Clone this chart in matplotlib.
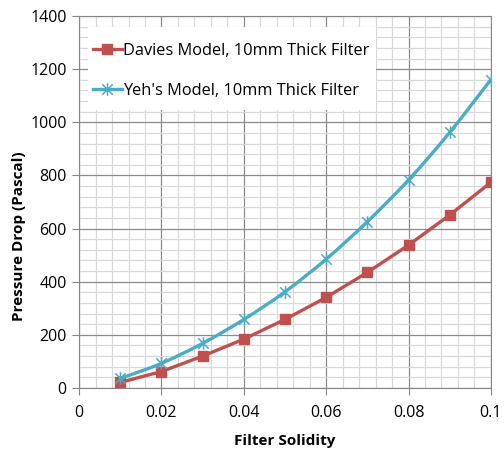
import matplotlib
matplotlib.use("Agg")
import matplotlib.pyplot as plt
import numpy as np
from matplotlib.path import Path
from matplotlib.patches import PathPatch, Rectangle
from matplotlib.lines import Line2D

solidity = [0.01, 0.02, 0.03, 0.04, 0.05, 0.06, 0.07, 0.08, 0.09, 0.10]
davies = [21, 62, 120, 184, 258, 341, 435, 538, 651, 774]
yeh = [36, 93, 168, 258, 362, 485, 626, 783, 962, 1161]
x_ticks = [0, 0.02, 0.04, 0.06, 0.08, 0.1]
x_tick_labels = ["0", "0.02", "0.04", "0.06", "0.08", "0.1"]
y_ticks = [0, 200, 400, 600, 800, 1000, 1200, 1400]

plt.rcParams['font.family'] = ['Open Sans', 'DejaVu Sans']

red = '#C0504D'
blue = '#4BACC6'

# Excel-style star marker: an "x" plus a vertical bar
star = Path([(-0.5, -0.5), (0.5, 0.5), (-0.5, 0.5), (0.5, -0.5), (0, -0.6), (0, 0.6)],
            [Path.MOVETO, Path.LINETO, Path.MOVETO, Path.LINETO, Path.MOVETO, Path.LINETO])

fig = plt.figure(figsize=(5.04, 4.51), dpi=100)
ax = fig.add_axes([0.157, 0.1397, 0.817, 0.8248])

ax.set_xlim(0, 0.1)
ax.set_ylim(0, 1400)
ax.set_xticks(x_ticks)
ax.set_xticklabels(x_tick_labels)
ax.set_yticks(y_ticks)
ax.set_xticks(np.arange(0, 0.1001, 0.004), minor=True)
ax.set_yticks(np.arange(0, 1401, 40), minor=True)
ax.grid(which='minor', color='#d9d9d9', linewidth=0.9)
ax.grid(which='major', color='#8c8c8c', linewidth=0.9)
ax.set_axisbelow(True)
ax.tick_params(which='minor', length=0)
ax.tick_params(which='major', length=5, color='#868686', labelsize=11.5)
ax.tick_params(axis='x', pad=7)
ax.tick_params(axis='y', pad=4)
for s in ax.spines.values():
    s.set_color('#868686')

# Davies: straight line
ax.plot(solidity, davies, color=red, linewidth=2.4, marker='s', markersize=7.5,
        markeredgecolor=red, markerfacecolor=red, zorder=3)

# Yeh: smoothed line (Catmull-Rom style bezier through the data points)
xs = np.array(solidity); ys = np.array(yeh, dtype=float)
verts = [(xs[0], ys[0])]
codes = [Path.MOVETO]
n = len(xs)
for i in range(n - 1):
    p0 = (xs[max(i - 1, 0)], ys[max(i - 1, 0)])
    p1 = (xs[i], ys[i]); p2 = (xs[i + 1], ys[i + 1])
    p3 = (xs[min(i + 2, n - 1)], ys[min(i + 2, n - 1)])
    c1 = (p1[0] + (p2[0] - p0[0]) / 6, p1[1] + (p2[1] - p0[1]) / 6)
    c2 = (p2[0] - (p3[0] - p1[0]) / 6, p2[1] - (p3[1] - p1[1]) / 6)
    verts += [c1, c2, p2]
    codes += [Path.CURVE4] * 3
ax.add_patch(PathPatch(Path(verts, codes), facecolor='none', edgecolor=blue,
                       linewidth=2.4, zorder=3))
ax.plot(solidity, yeh, linestyle='none', marker=star, markersize=9,
        markeredgecolor=blue, markeredgewidth=1.1, zorder=4)

ax.set_xlabel('Filter Solidity', fontsize=11, fontweight='bold', va='center')
ax.xaxis.set_label_coords(0.5, -0.1425)
ax.set_ylabel('Pressure Drop (Pascal)', fontsize=11, fontweight='bold', va='center')
ax.yaxis.set_label_coords(-0.146, 0.409)

# legend background box
ax.add_patch(Rectangle((0.0218, 0.747), 0.699, 0.223, transform=ax.transAxes,
                       facecolor='white', edgecolor='none', zorder=2.5))

handles = [
    Line2D([], [], color=red, linewidth=2.4, marker='s', markersize=7.5),
    Line2D([], [], color=blue, linewidth=2.4, marker=star, markersize=9,
           markeredgewidth=1.1),
]
leg = ax.legend(handles, ['Davies Model, 10mm Thick Filter', "Yeh's Model, 10mm Thick Filter"],
                loc='upper left', bbox_to_anchor=(0.034, 0.928), fontsize=11.8,
                frameon=False, handlelength=1.75, handletextpad=0.05,
                labelspacing=1.45, borderpad=0.0, borderaxespad=0.0)
leg.set_zorder(5)

fig.savefig('out.png', dpi=100)
